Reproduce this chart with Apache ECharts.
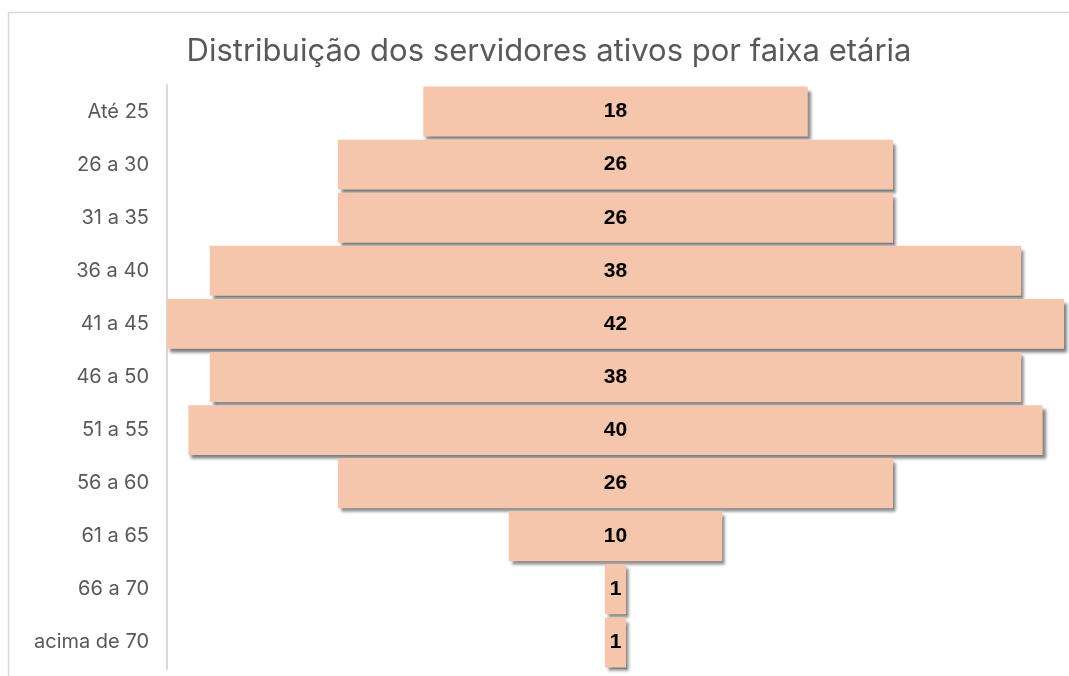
<!DOCTYPE html>
<html>
<head>
<meta charset="utf-8">
<script src="https://cdn.jsdelivr.net/npm/echarts@6/dist/echarts.min.js"></script>
<style>
  html, body { margin: 0; padding: 0; background: #fff; }
  #chart { width: 1069px; height: 676px; }
</style>
</head>
<body>
<div id="chart"></div>
<script>
// faixas etárias (de cima para baixo)
const faixas = ['Até 25', '26 a 30', '31 a 35', '36 a 40', '41 a 45', '46 a 50', '51 a 55', '56 a 60', '61 a 65', '66 a 70', 'acima de 70'];
// número de servidores ativos
const servidores = [18, 26, 26, 38, 42, 38, 40, 26, 10, 1, 1];

const maxValor = Math.max(...servidores);
// deslocamento invisível para centralizar as barras
const deslocamento = servidores.map(v => (maxValor - v) / 2);

const myChart = echarts.init(document.getElementById('chart'));
const option = {
  animation: false,
  title: {
    text: 'Distribuição dos servidores ativos por faixa etária',
    left: 544,
    textAlign: 'center',
    top: 31,
    textStyle: {
      fontFamily: 'Inter',
      fontSize: 31,
      fontWeight: 'normal',
      color: '#595959'
    }
  },
  graphic: [{
    type: 'rect',
    shape: { x: 8.5, y: 12.5, width: 1070, height: 700 },
    style: { fill: 'none', stroke: '#d9d9d9', lineWidth: 1.5 },
    silent: true
  }],
  grid: {
    left: 167,
    right: 5,
    top: 85,
    bottom: 7
  },
  xAxis: {
    type: 'value',
    min: 0,
    max: maxValor,
    show: false
  },
  yAxis: {
    type: 'category',
    data: faixas,
    inverse: true,
    axisLine: { show: true, lineStyle: { color: '#d9d9d9', width: 2 } },
    axisTick: { show: false },
    axisLabel: {
      margin: 18,
      fontFamily: 'Inter',
      fontSize: 20,
      color: '#595959'
    }
  },
  series: [
    {
      name: 'offset',
      type: 'bar',
      stack: 'total',
      data: deslocamento,
      itemStyle: { color: 'transparent' },
      silent: true,
      barCategoryGap: '6%'
    },
    {
      name: 'Servidores',
      type: 'bar',
      stack: 'total',
      data: servidores,
      barCategoryGap: '6%',
      itemStyle: {
        color: '#f5c6ac',
        shadowColor: 'rgba(0,0,0,0.5)',
        shadowBlur: 3,
        shadowOffsetX: 3,
        shadowOffsetY: 4
      },
      label: {
        show: true,
        position: 'inside',
        color: '#000',
        fontFamily: 'Liberation Sans',
        fontWeight: 'bold',
        fontSize: 21
      }
    }
  ]
};
myChart.setOption(option);
</script>
</body>
</html>
